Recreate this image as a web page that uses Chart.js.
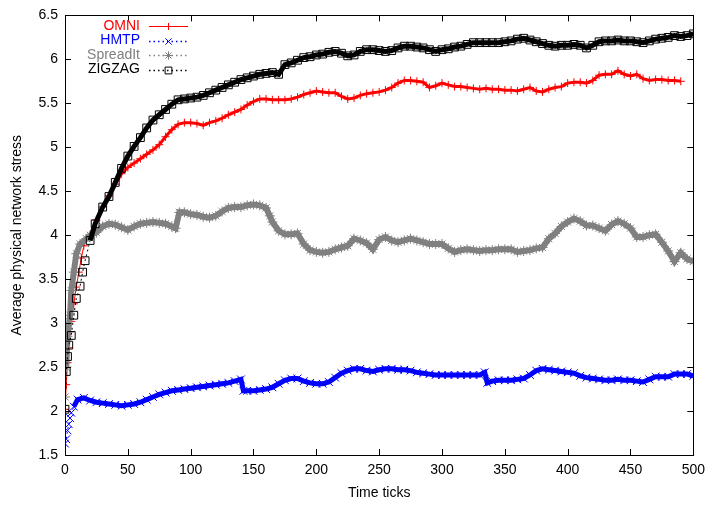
<!DOCTYPE html>
<html>
<head>
<meta charset="utf-8">
<script src="https://cdn.jsdelivr.net/npm/chart.js@4.4.1/dist/chart.umd.min.js"></script>
<style>
  html, body { margin: 0; padding: 0; background: #ffffff; }
  #wrap { width: 712px; height: 506px; }
</style>
</head>
<body>
<div id="wrap"><canvas id="c" width="712" height="506"></canvas></div>
<script>
// ---------- data ----------
const xTickLabels = [0, 50, 100, 150, 200, 250, 300, 350, 400, 450, 500];
const yTickLabels = [1.5, 2, 2.5, 3, 3.5, 4, 4.5, 5, 5.5, 6, 6.5];

const seriesNames = ["OMNI", "HMTP", "SpreadIt", "ZIGZAG"];

const omniTicks = [0,1,2,3,4,5,7,9,11,13,15,17,20,25,30,35,40,45,50,55,60,65,70,75,80,85,90,95,100,105,110,115,120,125,130,135,140,145,150,155,160,165,170,175,180,185,190,195,200,205,210,215,220,225,230,235,240,245,250,255,260,265,270,275,280,285,290,295,300,305,310,315,320,325,330,335,340,345,350,355,360,365,370,375,380,385,390,395,400,405,410,415,420,425,430,435,440,445,450,455,460,465,470,475,480,485,490];
const omniStress = [2.02,2.30,2.55,2.72,2.90,3.02,3.22,3.41,3.58,3.74,3.88,3.96,4.00,4.17,4.32,4.45,4.58,4.70,4.77,4.82,4.87,4.92,4.97,5.03,5.12,5.20,5.26,5.28,5.28,5.27,5.25,5.28,5.30,5.33,5.37,5.40,5.43,5.48,5.52,5.55,5.55,5.54,5.54,5.54,5.55,5.57,5.60,5.62,5.64,5.63,5.62,5.62,5.58,5.55,5.56,5.59,5.61,5.62,5.63,5.65,5.68,5.73,5.76,5.76,5.75,5.74,5.68,5.70,5.73,5.71,5.69,5.69,5.68,5.67,5.66,5.67,5.66,5.66,5.65,5.65,5.64,5.66,5.68,5.64,5.63,5.66,5.68,5.69,5.73,5.74,5.74,5.73,5.76,5.82,5.83,5.83,5.87,5.83,5.81,5.83,5.78,5.76,5.77,5.77,5.76,5.76,5.75];

const hmtpTicks = [0,1,2,3,4,5,7,10,15,20,25,30,35,40,45,50,55,60,65,70,75,80,85,90,95,100,105,110,115,120,125,130,135,140,142,145,150,155,160,165,170,175,180,185,190,195,200,205,210,215,220,225,230,235,240,245,250,255,260,265,270,275,280,285,290,295,300,305,310,315,320,325,330,334,336,340,345,350,355,360,365,370,375,380,385,390,395,400,405,410,415,420,425,430,435,440,445,450,455,460,465,470,475,480,485,490,495,500];
const hmtpStress = [1.63,1.68,1.78,1.85,1.92,1.98,2.05,2.13,2.15,2.12,2.10,2.09,2.08,2.07,2.06,2.07,2.08,2.10,2.13,2.16,2.19,2.21,2.23,2.24,2.25,2.26,2.27,2.28,2.29,2.30,2.31,2.32,2.34,2.36,2.23,2.23,2.23,2.24,2.25,2.27,2.31,2.35,2.37,2.37,2.34,2.32,2.31,2.31,2.33,2.38,2.43,2.46,2.48,2.48,2.46,2.45,2.47,2.48,2.48,2.47,2.47,2.46,2.44,2.43,2.42,2.41,2.41,2.41,2.41,2.41,2.41,2.41,2.41,2.44,2.32,2.34,2.35,2.35,2.35,2.36,2.37,2.41,2.46,2.48,2.47,2.46,2.45,2.44,2.43,2.40,2.38,2.37,2.36,2.35,2.35,2.36,2.35,2.35,2.34,2.33,2.36,2.39,2.39,2.39,2.42,2.42,2.42,2.40];

const spreadTicks = [0,1,2,4,5,7,9,12,17,20,25,30,35,40,45,50,55,60,65,70,75,80,85,88,91,95,100,105,110,115,120,125,130,135,140,145,150,155,160,163,165,170,175,180,185,190,195,200,205,210,215,220,225,230,235,240,245,250,255,260,265,270,275,280,285,290,295,300,305,310,315,320,325,330,335,340,345,350,355,360,365,370,375,380,385,390,395,400,405,410,415,420,425,430,435,440,445,450,455,460,465,470,475,480,485,490,495,500];
const spreadStress = [2.16,2.50,2.85,3.09,3.37,3.58,3.79,3.90,3.96,4.00,4.03,4.10,4.13,4.12,4.09,4.06,4.10,4.13,4.14,4.15,4.14,4.13,4.10,4.08,4.26,4.26,4.24,4.23,4.21,4.20,4.22,4.27,4.31,4.32,4.32,4.34,4.35,4.34,4.31,4.22,4.15,4.05,4.01,4.01,4.02,3.90,3.83,3.81,3.80,3.81,3.84,3.86,3.88,3.96,3.94,3.91,3.84,3.95,3.98,3.94,3.92,3.94,3.96,3.94,3.92,3.90,3.90,3.90,3.85,3.81,3.83,3.84,3.83,3.82,3.83,3.83,3.84,3.84,3.84,3.81,3.82,3.83,3.85,3.86,3.96,4.02,4.10,4.15,4.19,4.16,4.11,4.11,4.08,4.05,4.12,4.16,4.13,4.08,3.98,3.98,4.00,4.01,3.92,3.82,3.70,3.80,3.73,3.70];

const zigzagTicks = [0,1,2,3,5,7,9,12,14,16,20,24,30,35,40,45,50,55,60,65,70,75,80,85,90,95,100,105,110,115,120,125,130,135,140,145,150,155,160,165,170,175,180,185,190,195,200,205,210,215,220,225,230,235,240,245,250,255,260,265,270,275,280,285,290,295,300,305,310,315,320,325,330,335,340,345,350,355,360,365,370,375,380,385,390,395,400,405,410,415,420,425,430,435,440,445,450,455,460,465,470,475,480,485,490,495,500];
const zigzagStress = [2.02,2.45,2.62,2.75,2.86,3.09,3.28,3.42,3.58,3.71,3.94,4.13,4.32,4.44,4.60,4.76,4.90,5.01,5.11,5.22,5.31,5.37,5.43,5.49,5.54,5.55,5.56,5.57,5.59,5.62,5.65,5.68,5.71,5.74,5.77,5.79,5.81,5.83,5.84,5.85,5.83,5.94,5.96,5.99,6.02,6.03,6.05,6.06,6.08,6.09,6.07,6.04,6.05,6.09,6.11,6.11,6.10,6.09,6.10,6.13,6.15,6.15,6.14,6.13,6.11,6.09,6.11,6.12,6.14,6.15,6.17,6.19,6.19,6.19,6.19,6.19,6.20,6.21,6.23,6.24,6.22,6.20,6.18,6.16,6.15,6.16,6.16,6.17,6.16,6.13,6.16,6.20,6.21,6.21,6.22,6.21,6.21,6.20,6.19,6.21,6.23,6.24,6.25,6.27,6.26,6.27,6.29];

// ---------- styles ----------
const FONT = "'Liberation Sans', Arial, Helvetica, sans-serif";
const seriesStyle = [
  { color: "#ff0000", point: "cross",    radius: 4,   line: 3, dashed: false, thinUntil: 17, order: 3 },
  { color: "#0000ff", point: "crossRot", radius: 5.5, line: 5, dashed: true,  thinUntil: 6,  order: 2 },
  { color: "#808080", point: "star",     radius: 5,   line: 6, dashed: true,  thinUntil: 1,  order: 1 },
  { color: "#000000", point: "rect",     radius: 5.5, line: 5, dashed: true,  thinUntil: 20, order: 0 }
];
const legendPointRadius = [3.5, 4.5, 4.2, 4.8];

function pts(ticks, vals) { return ticks.map((t, i) => ({ x: t, y: vals[i] })); }
const allData = [pts(omniTicks, omniStress), pts(hmtpTicks, hmtpStress), pts(spreadTicks, spreadStress), pts(zigzagTicks, zigzagStress)];

const datasets = seriesNames.map((name, i) => {
  const s = seriesStyle[i];
  return {
    label: name,
    data: allData[i],
    borderColor: s.color,
    backgroundColor: "rgba(0,0,0,0)",
    borderWidth: s.line,
    segment: {
      // steep start: markers are spread apart there, so the joining line is thin
      borderWidth: c => (c.p0.parsed.x < s.thinUntil ? 1 : s.line),
      borderDash: c => (c.p0.parsed.x < s.thinUntil && s.dashed ? [2, 3] : [])
    },
    tension: 0,
    pointStyle: s.point,
    pointRadius: s.radius,
    pointBorderWidth: 1,
    pointBorderColor: s.color,
    pointBackgroundColor: "rgba(0,0,0,0)",
    order: s.order
  };
});

// frame + inward ticks on all four sides (gnuplot style), and legend
const gnuplotDecor = {
  id: "gnuplotDecor",
  afterDatasetsDraw(chart) {
    const ctx = chart.ctx;
    const a = chart.chartArea;
    const xs = chart.scales.x, ys = chart.scales.y;
    const L = 6;
    ctx.save();
    ctx.strokeStyle = "#000";
    ctx.lineWidth = 1;
    ctx.setLineDash([]);
    ctx.beginPath();
    xTickLabels.forEach(v => {
      const px = Math.round(xs.getPixelForValue(v)) + 0.5;
      ctx.moveTo(px, a.bottom); ctx.lineTo(px, a.bottom - L);
      ctx.moveTo(px, a.top); ctx.lineTo(px, a.top + L);
    });
    yTickLabels.forEach(v => {
      const py = Math.round(ys.getPixelForValue(v)) + 0.5;
      ctx.moveTo(a.left, py); ctx.lineTo(a.left + L, py);
      ctx.moveTo(a.right, py); ctx.lineTo(a.right - L, py);
    });
    ctx.stroke();
    ctx.strokeRect(Math.round(a.left) + 0.5, Math.round(a.top) + 0.5, Math.round(a.right - a.left), Math.round(a.bottom - a.top));
    ctx.restore();

    // legend
    const rowY = [26, 40.5, 55, 69.5];
    seriesNames.forEach((name, i) => {
      const s = seriesStyle[i];
      const y = Math.round(rowY[i]) + 0.5;
      ctx.save();
      ctx.font = "14px " + FONT;
      ctx.textAlign = "right";
      ctx.textBaseline = "middle";
      ctx.fillStyle = s.color;
      ctx.fillText(name, 140, rowY[i]);
      ctx.strokeStyle = s.color;
      ctx.lineWidth = s.dashed ? 1.5 : 1;
      ctx.setLineDash(s.dashed ? [1.5, 3] : []);
      ctx.beginPath();
      ctx.moveTo(149, y);
      ctx.lineTo(188, y);
      ctx.stroke();
      ctx.setLineDash([]);
      ctx.lineWidth = 1;
      ctx.strokeStyle = s.color;
      ctx.fillStyle = "rgba(0,0,0,0)";
      Chart.helpers.drawPoint(ctx, {
        pointStyle: s.point, radius: legendPointRadius[i], rotation: 0, borderWidth: 1
      }, 168.5, y);
      ctx.restore();
    });
  }
};

new Chart(document.getElementById("c"), {
  type: "line",
  data: { datasets },
  options: {
    responsive: false,
    animation: false,
    devicePixelRatio: 1,
    layout: { padding: { top: 14, right: 14, left: 0, bottom: 0 } },
    plugins: { legend: { display: false }, tooltip: { enabled: false }, title: { display: false } },
    scales: {
      x: {
        type: "linear", min: 0, max: 500,
        afterFit(s) { s.height = 51; },
        afterBuildTicks(s) { s.ticks = xTickLabels.map(v => ({ value: v })); },
        grid: { display: false, drawTicks: false },
        border: { display: false },
        ticks: { color: "#000", font: { family: FONT, size: 14 }, padding: 7, maxRotation: 0, autoSkip: false, callback: v => String(v) },
        title: { display: true, text: "Time ticks", color: "#000", font: { family: FONT, size: 14 }, padding: { top: 0, bottom: 4 } }
      },
      y: {
        type: "linear", min: 1.5, max: 6.5,
        afterFit(s) { s.width = 65; },
        afterBuildTicks(s) { s.ticks = yTickLabels.map(v => ({ value: v })); },
        grid: { display: false, drawTicks: false },
        border: { display: false },
        ticks: { color: "#000", font: { family: FONT, size: 14 }, padding: 7, autoSkip: false, callback: v => String(v) },
        title: { display: true, text: "Average physical network stress", color: "#000", font: { family: FONT, size: 14 }, padding: { top: 9, bottom: 0 } }
      }
    }
  },
  plugins: [gnuplotDecor]
});
</script>
</body>
</html>
